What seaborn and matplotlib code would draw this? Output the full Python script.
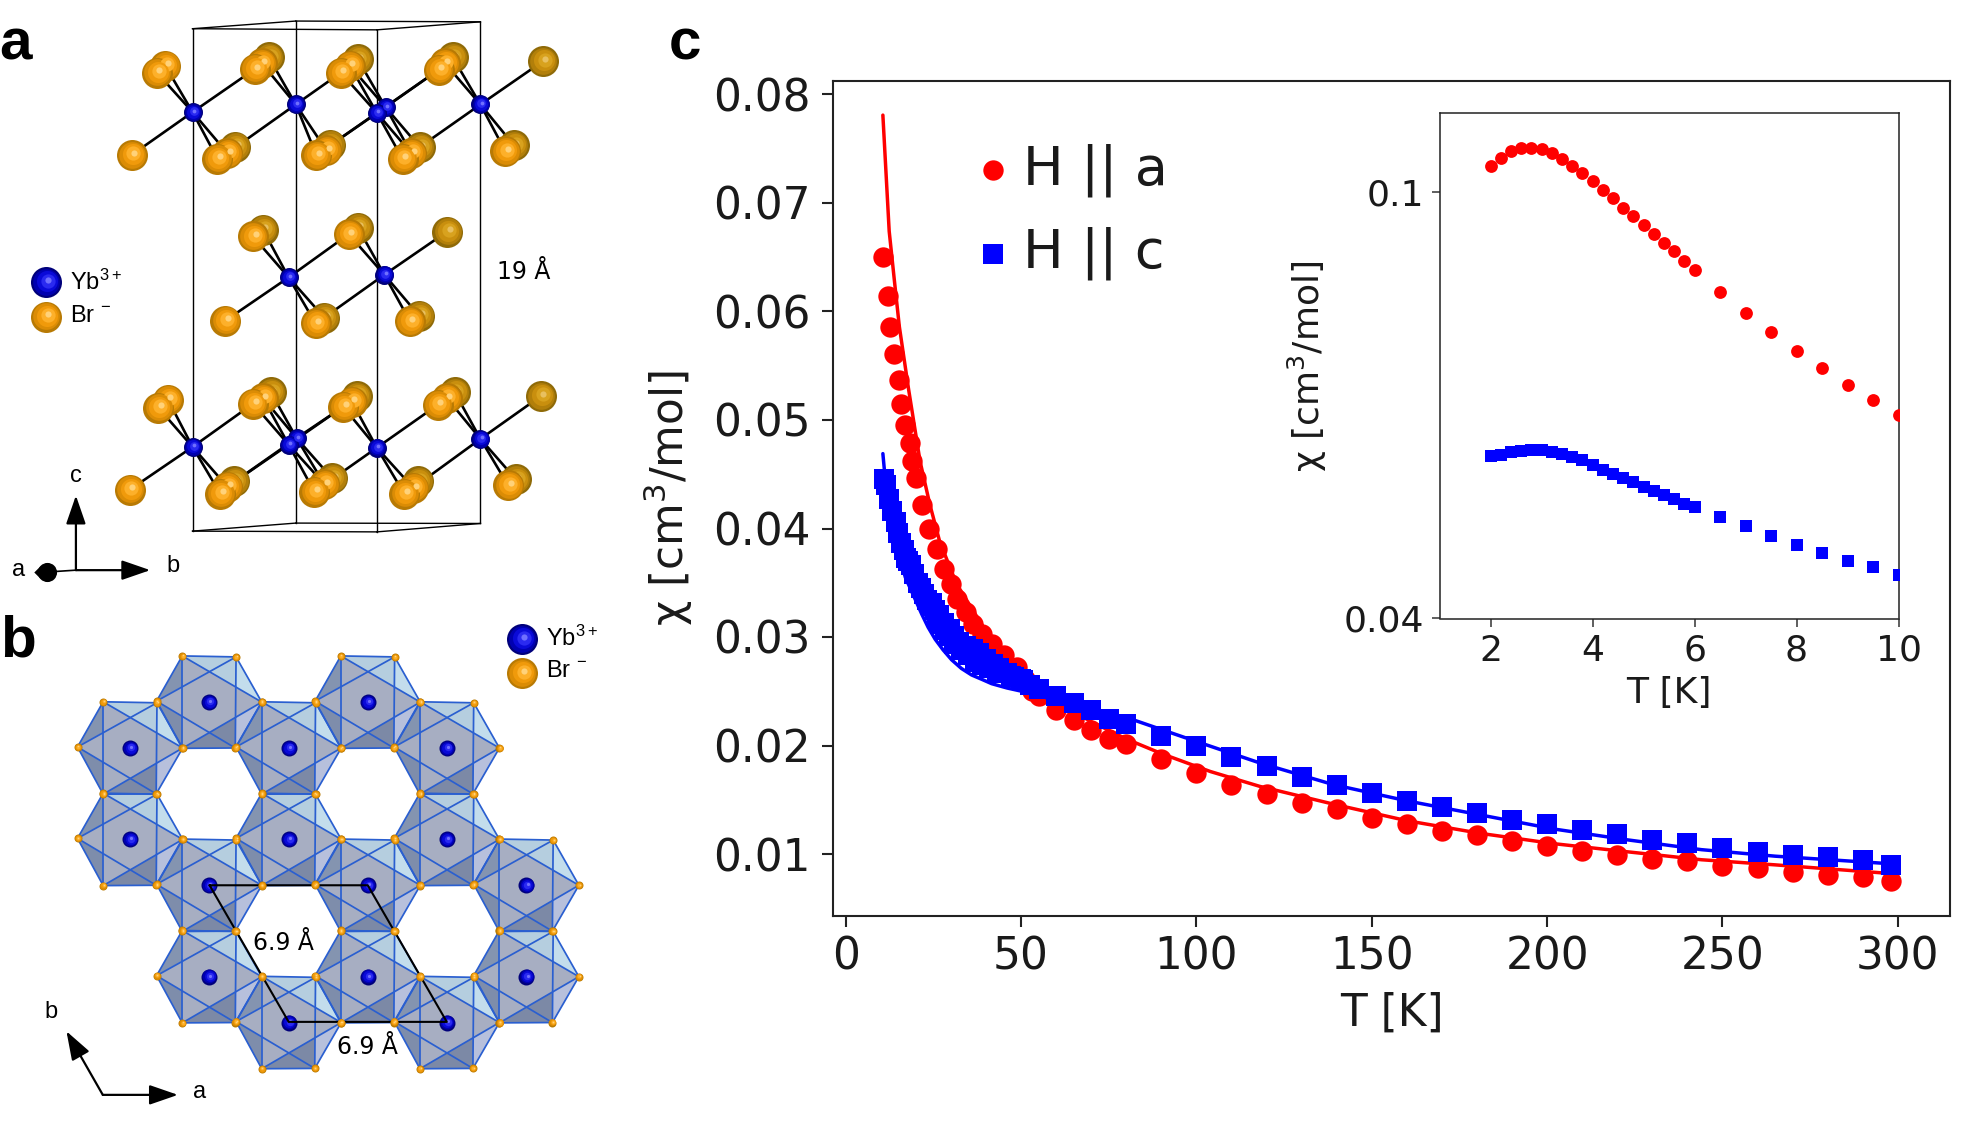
import numpy as np
import pandas as pd
import matplotlib
matplotlib.use("Agg")
import matplotlib.pyplot as plt
from matplotlib.patches import Polygon
from matplotlib.ticker import FixedLocator, NullLocator, FixedFormatter
import seaborn as sns

sns.set_theme(style="ticks")
plt.rcParams['font.family'] = ['DejaVu Sans']
plt.rcParams['mathtext.default'] = 'regular'
plt.rcParams['text.color'] = 'black'

W, H = 1973, 1125
DPI = 100

# ---------- panel c: main data ----------
t_a = [10.7, 12, 12.6, 13.9, 15.2, 15.8, 17, 18.2, 18.8, 20, 21.8, 23.7, 26.1, 28, 29.9, 31.8, 34.3, 36.4,
       38.8, 41.6, 45, 48.8, 51, 53, 55, 60, 65, 70, 75, 80, 90, 100, 110, 120, 130, 140, 150, 160, 170,
       180, 190, 200, 210, 220, 230, 240, 250, 260, 270, 280, 290, 298]
chi_a = [.0650, .0614, .0586, .0561, .0537, .0515, .0495, .0479, .0462, .0447, .0422, .0400, .0381, .0363,
         .0349, .0335, .0323, .0312, .0303, .0294, .0283, .0272, .0261, .0250, .02455, .02328, .02233,
         .02143, .02063, .02010, .01873, .01751, .01640, .01555, .01471, .01413, .01333, .01275, .01212,
         .01175, .01116, .01074, .01032, .00995, .00958, .00931, .00894, .00873, .00836, .00810, .00788, .00751]
t_c = [10.8, 11.6, 12.4, 13.3, 14.3, 15, 15.8, 16.5, 17.2, 17.9, 18.6, 19.5, 20.5, 21.4, 22.4, 23.3, 24.3, 25.5,
       26.7, 28, 29.6, 31, 32.4, 34.3, 36.2, 38, 40, 42, 43.8, 46, 48, 50.5, 52.5, 55, 60, 65, 70, 75, 80, 90,
       100, 110, 120, 130, 140, 150, 160, 170, 180, 190, 200, 210, 220, 230, 240, 250, 260, 270, 280, 290, 298]
chi_c = [.0446, .0440, .0427, .0416, .0406, .0396, .0387, .0380, .0373, .0370, .0366, .0358, .0350, .0345,
         .0340, .0334, .0329, .0325, .0320, .0313, .0307, .0301, .0295, .0292, .0289, .0285, .0280, .0275,
         .0271, .0267, .0263, .0260, .0256, .02524, .02455, .02391, .02328, .02248, .02201, .02084, .01995,
         .01894, .01809, .01714, .01635, .01566, .01492, .01434, .01376, .01317, .01275, .01217, .01180,
         .01132, .01101, .01058, .01016, .00995, .00968, .00947, .00899]
# lower side of the thick blue band between about 24 K and 50 K
t_c_low = [24.5, 26, 27, 28.3, 29.5, 31, 33, 35, 37, 38.8, 41, 43, 44.5, 47, 50]
chi_c_low = [.0331, .0318, .0312, .0306, .0301, .0294, .0288, .0283, .0277, .0274, .0271, .0268, .0267, .0264, .0261]
fit_t_a = [10.6, 12.4, 13.9, 15.3, 17.9, 21.2, 24, 26.8, 31.6, 41, 49, 55, 60, 70, 80, 90, 104, 118, 139, 160,
           181, 202, 223, 244, 265, 298]
fit_a = [.0781, .0674, .0628, .0586, .0529, .0462, .0422, .0388, .0349, .0300, .0273, .0253, .0240, .0222,
         .0206, .01926, .0176, .01624, .0146, .01307, .0119, .01095, .0102, .00947, .0090, .0082]
fit_t_c = [10.6, 11.4, 13, 15, 17, 19.5, 21.7, 23.5, 25.5, 27.8, 30.2, 33, 35.9, 38.8, 41.6, 46, 50.2, 55, 65, 82.6,
           97, 118, 139, 160, 181, 202, 223, 244, 265, 298]
fit_c = [.0469, .0441, .0405, .0378, .0355, .0337, .0321, .0309, .0298, .0288, .0279, .0271, .0265, .0261,
         .0257, .0253, .0250, .0246, .0237, .0223, .0207, .0184, .0164, .0149, .0136, .0123, .0113, .0104,
         .0098, .0091]

# ---------- panel c: inset data ----------
t_in_a = [2.0, 2.2, 2.4, 2.6, 2.8, 3.0, 3.2, 3.4, 3.6, 3.8, 4.0, 4.2, 4.4, 4.6, 4.8, 5.0, 5.2, 5.4, 5.6, 5.8, 6.0,
          6.5, 7.0, 7.5, 8.0, 8.5, 9.0, 9.5, 10.0]
t_in_c = list(t_in_a)
in_a = [.1059, .1078, .1094, .1100, .1101, .1097, .1088, .1074, .1059, .1042, .1024, .1006, .0988, .0968, .0950,
        .0932, .0915, .0897, .0881, .0863, .0847, .0808, .0772, .0740, .0711, .0685, .0661, .0640, .0620]
in_c = [.0567, .0569, .0572, .0574, .0575, .0575, .0572, .0570, .0566, .0562, .0557, .0551, .0546, .0541, .0536,
        .0531, .0526, .0522, .0517, .0512, .0508, .0498, .0488, .0478, .0469, .0461, .0453, .0447, .0439]

main_xticks = [0, 50, 100, 150, 200, 250, 300]
main_yticks = [0.01, 0.02, 0.03, 0.04, 0.05, 0.06, 0.07, 0.08]
inset_xticks = [2, 4, 6, 8, 10]
inset_yticks = [0.04, 0.1]
inset_ylabels = ['0.04', '0.1']

# ---------- panel a: structure drawing, read in a 1568x1568 frame over the crop ----------
a_cell = [[(487, 75), (953, 78)], [(487, 75), (748, 55)], [(953, 78), (1215, 57)], [(748, 55), (1215, 57)],
          [(487, 75), (487, 1388)], [(748, 55), (748, 1367)], [(953, 78), (953, 1390)], [(1215, 57), (1215, 1368)],
          [(487, 1388), (953, 1390)], [(487, 1388), (748, 1367)], [(953, 1390), (1215, 1368)], [(748, 1367), (1215, 1368)]]
a_br_dark = [(680, 150), (905, 155), (1145, 150), (1373, 160), (595, 383), (835, 378), (1062, 385), (1300, 380),
             (665, 600), (905, 595), (1131, 605), (820, 830), (1060, 825),
             (685, 1025), (903, 1035), (1150, 1025), (1368, 1035), (592, 1258), (840, 1250), (1058, 1258), (1305, 1253)]
a_br = [(418, 172), (397, 190), (662, 165), (645, 180), (885, 172), (862, 190), (1125, 165), (1110, 182),
        (333, 405), (575, 400), (550, 415), (825, 392), (800, 405), (1040, 400), (1018, 415), (1278, 395),
        (640, 618), (882, 612), (570, 838), (798, 845), (1037, 840),
        (425, 1045), (400, 1065), (665, 1040), (640, 1055), (890, 1050), (868, 1063), (1130, 1040), (1107, 1058),
        (328, 1280), (575, 1272), (557, 1290), (820, 1265), (795, 1285), (1045, 1275), (1022, 1290), (1285, 1268)]
a_yb = [(487, 293), (748, 273), (975, 280), (953, 295), (1215, 273), (730, 725), (972, 718),
        (487, 1168), (750, 1145), (730, 1162), (953, 1170), (1215, 1147)]
a_bonds = [[(487, 293), (397, 190)], [(487, 293), (418, 172)], [(487, 293), (333, 405)], [(487, 293), (550, 415)],
           [(487, 293), (575, 400)], [(487, 293), (645, 180)],
           [(748, 273), (662, 165)], [(748, 273), (680, 150)], [(748, 273), (575, 400)], [(748, 273), (800, 405)],
           [(748, 273), (825, 392)], [(748, 273), (862, 190)],
           [(975, 280), (885, 172)], [(975, 280), (905, 155)], [(975, 280), (800, 405)], [(975, 280), (1040, 400)],
           [(975, 280), (1062, 385)], [(975, 280), (1110, 182)],
           [(953, 295), (862, 190)], [(953, 295), (885, 172)], [(953, 295), (800, 405)], [(953, 295), (1018, 415)],
           [(953, 295), (1040, 400)], [(953, 295), (1110, 182)],
           [(1215, 273), (1125, 165)], [(1215, 273), (1145, 150)], [(1215, 273), (1373, 160)], [(1215, 273), (1040, 400)],
           [(1215, 273), (1278, 395)], [(1215, 273), (1300, 380)],
           [(730, 725), (640, 618)], [(730, 725), (665, 600)], [(730, 725), (570, 838)], [(730, 725), (798, 845)],
           [(730, 725), (820, 830)], [(730, 725), (882, 612)],
           [(972, 718), (882, 612)], [(972, 718), (905, 595)], [(972, 718), (1131, 605)], [(972, 718), (820, 830)],
           [(972, 718), (1037, 840)], [(972, 718), (1060, 825)],
           [(487, 1168), (400, 1065)], [(487, 1168), (425, 1045)], [(487, 1168), (328, 1280)], [(487, 1168), (557, 1290)],
           [(487, 1168), (575, 1272)], [(487, 1168), (640, 1055)],
           [(750, 1145), (665, 1040), ], [(750, 1145), (685, 1025)], [(750, 1145), (575, 1272)], [(750, 1145), (820, 1265)],
           [(750, 1145), (840, 1250)], [(750, 1145), (868, 1063)],
           [(730, 1162), (640, 1055)], [(730, 1162), (665, 1040)], [(730, 1162), (575, 1272)], [(730, 1162), (795, 1285)],
           [(730, 1162), (820, 1265)], [(730, 1162), (868, 1063)],
           [(953, 1170), (868, 1063)], [(953, 1170), (890, 1050)], [(953, 1170), (795, 1285)], [(953, 1170), (1022, 1290)],
           [(953, 1170), (1045, 1275)], [(953, 1170), (1107, 1058)],
           [(1215, 1147), (1130, 1040)], [(1215, 1147), (1150, 1025)], [(1215, 1147), (1368, 1035)], [(1215, 1147), (1045, 1275)],
           [(1215, 1147), (1285, 1268)], [(1215, 1147), (1305, 1253)]]

# ---------- panel b: structure drawing ----------
b_centres = [(529, 305), (930, 305), (329, 442), (730, 442), (1130, 442), (329, 715), (730, 715), (1130, 715),
             (529, 852), (930, 852), (1331, 852), (529, 1125), (930, 1125), (1331, 1125), (730, 1262), (1130, 1262)]
b_cell = [(530, 852), (930, 852), (1130, 1260), (730, 1260), (530, 852)]

ORANGE = ['#B87A04', '#DB8C05', '#F09A0B', '#FDB02A', '#FFD27A']
ORANGE_D = ['#8F6A08', '#B27F0A', '#C98F0E', '#D8A21E', '#E8C060']
BLUE = ['#00007A', '#0000B0', '#0A0AD8', '#2A2AF0', '#7070FF']


def ball(ax, x, y, d_px, cols, z):
    """shaded sphere from a few shrinking discs; d_px is the diameter in image pixels"""
    for i, (f, c) in enumerate(zip([1.0, .86, .68, .46, .2], cols)):
        d = d_px * 0.72 * f
        off = (1 - f) * d_px * 0.25
        ax.scatter([x + off * 1.0], [y - off * 1.0], s=d ** 2, c=c, linewidths=0, zorder=z + i * 0.01, clip_on=False)


def arrow(ax, p0, p1, lw=1.6):
    ax.annotate('', xy=p1, xytext=p0,
                arrowprops=dict(arrowstyle='-|>,head_length=1.1,head_width=0.38', color='black', lw=lw,
                                shrinkA=0, shrinkB=0, mutation_scale=16))


fig = plt.figure(figsize=(W / DPI, H / DPI), dpi=DPI, facecolor='white')


def px_axes(x0, y0, x1, y1):
    return fig.add_axes([x0 / W, 1 - y1 / H, (x1 - x0) / W, (y1 - y0) / H])


LAB = dict(family=['Liberation Sans'], color='black')

# ---- panel a
axa = px_axes(0, 0, 620, 600)
axa.set_xlim(0, 1568)
axa.set_ylim(1568, 0)
axa.axis('off')
for seg in a_cell:
    axa.plot(*zip(*seg), color='black', lw=1.0, zorder=1, solid_capstyle='projecting')
for seg in a_bonds:
    axa.plot(*zip(*seg), color='black', lw=1.9, zorder=2)
for i, (x, y) in enumerate(a_br_dark):
    ball(axa, x, y, 31, ORANGE_D, 3 + i * 0.02)
for i, (x, y) in enumerate(a_br):
    ball(axa, x, y, 31, ORANGE, 4 + i * 0.02)
for i, (x, y) in enumerate(a_yb):
    ball(axa, x, y, 19, BLUE, 6 + i * 0.02)
ball(axa, 116, 738, 31, BLUE, 6)
ball(axa, 116, 828, 31, ORANGE, 6)
axa.text(178, 738, 'Yb$^{3+}$', fontsize=17, va='center', ha='left', **LAB)
axa.text(178, 825, 'Br $^{-}$', fontsize=17, va='center', ha='left', **LAB)
axa.text(1325, 712, '19 Å', fontsize=17, va='center', ha='center', color='black')
axa.text(38, 116, 'a', fontsize=42, fontweight='bold', va='center', ha='center', **LAB)
arrow(axa, (192, 1490), (192, 1295))
arrow(axa, (192, 1490), (380, 1490))
axa.plot([192, 118], [1490, 1495], color='black', lw=1.2, zorder=2)
axa.scatter([118], [1495], s=190, c='black', linewidths=0, zorder=3)
axa.scatter([100], [1495], s=40, c='black', marker='D', linewidths=0, zorder=3)
axa.text(192, 1245, 'c', fontsize=17, va='center', ha='center', **LAB)
axa.text(46, 1490, 'a', fontsize=17, va='center', ha='center', **LAB)
axa.text(438, 1478, 'b', fontsize=17, va='center', ha='center', **LAB)

# ---- panel b
axb = px_axes(0, 600, 620, 1125)
axb.set_xlim(0, 1568)
axb.set_ylim(1568, 0)
axb.axis('off')
EDGE = '#2A5FD0'
for cx, cy in b_centres:
    TL, TR, R_, BR, BL, L_ = [(cx + dx, cy + dy) for dx, dy in
                              [(-68, -138), (68, -135), (133, 0), (66, 137), (-68, 138), (-133, -3)]]
    P = lambda dx, dy: (cx + dx, cy + dy)
    axb.add_patch(Polygon([TL, TR, R_, BR, BL, L_], closed=True, fc='#A7AEC2', ec='none', zorder=1))
    axb.add_patch(Polygon([TL, TR, P(0, -92)], closed=True, fc='#B5CEDF', ec='none', zorder=1.1))
    axb.add_patch(Polygon([TR, R_, P(66, -45)], closed=True, fc='#C3DDEC', ec='none', zorder=1.1))
    axb.add_patch(Polygon([P(0, -92), TR, P(66, -45)], closed=True, fc='#B5CEDF', ec='none', zorder=1.1))
    axb.add_patch(Polygon([R_, BR, P(66, 45)], closed=True, fc='#B7C0DC', ec='none', zorder=1.1))
    axb.add_patch(Polygon([BL, BR, P(0, 92)], closed=True, fc='#7C89A6', ec='none', zorder=1.1))
    axb.add_patch(Polygon([P(0, 92), BR, P(66, 45)], closed=True, fc='#7C89A6', ec='none', zorder=1.1))
    axb.add_patch(Polygon([L_, TL, P(-68, -48)], closed=True, fc='#8494B0', ec='none', zorder=1.1))
    axb.add_patch(Polygon([L_, BL, P(-68, 45)], closed=True, fc='#7E8DAB', ec='none', zorder=1.1))
    segs = [(TL, TR), (TR, R_), (R_, BR), (BR, BL), (BL, L_), (L_, TL), (TL, BL), (TR, BR),
            (TL, R_), (L_, TR), (L_, BR), (BL, R_)]
    for p0, p1 in segs:
        axb.plot(*zip(p0, p1), color=EDGE, lw=1.25, zorder=2)
    ball(axb, cx, cy, 16, BLUE, 3)
    for vx, vy in (TL, TR, R_, BR, BL, L_):
        ball(axb, vx, vy, 8, ORANGE, 4)
axb.plot(*zip(*b_cell), color='black', lw=1.5, zorder=3.5)
ball(axb, 1320, 117, 31, BLUE, 6)
ball(axb, 1320, 218, 31, ORANGE, 6)
axb.text(1380, 113, 'Yb$^{3+}$', fontsize=17, va='center', ha='left', **LAB)
axb.text(1380, 212, 'Br $^{-}$', fontsize=17, va='center', ha='left', **LAB)
axb.text(717, 1025, '6.9 Å', fontsize=17, va='center', ha='center', zorder=7, color='black')
axb.text(930, 1335, '6.9 Å', fontsize=17, va='center', ha='center', zorder=7, color='black')
axb.text(46, 125, 'b', fontsize=42, fontweight='bold', va='center', ha='center', **LAB)
arrow(axb, (260, 1478), (168, 1288))
arrow(axb, (260, 1478), (450, 1478))
axb.text(128, 1232, 'b', fontsize=17, va='center', ha='center', **LAB)
axb.text(505, 1468, 'a', fontsize=17, va='center', ha='center', **LAB)

fig.text(685 / W, 1 - 44 / H, 'c', fontsize=42, fontweight='bold', va='center', ha='center', **LAB)

# ---- panel c main
ax = px_axes(833, 81, 1950, 916)
df_a = pd.DataFrame({'T': t_a, 'chi': chi_a})
df_c = pd.DataFrame({'T': t_c + t_c_low, 'chi': chi_c + chi_c_low})
sns.scatterplot(data=df_a, x='T', y='chi', ax=ax, color='#FF0000', marker='o', s=215, linewidth=0,
                label='H || a', zorder=2)
sns.lineplot(data=pd.DataFrame({'T': fit_t_a, 'chi': fit_a}), x='T', y='chi', ax=ax, color='#FF0000', lw=2.5,
             zorder=3, legend=False, errorbar=None)
sns.scatterplot(data=df_c, x='T', y='chi', ax=ax, color='#0000FF', marker='s', s=218, linewidth=0,
                label='H || c', zorder=4)
sns.lineplot(data=pd.DataFrame({'T': fit_t_c, 'chi': fit_c}), x='T', y='chi', ax=ax, color='#0000FF', lw=2.5,
             zorder=5, legend=False, errorbar=None)
ax.set_xlim((833 - 845.7) / 3.507, (1950 - 845.7) / 3.507)
ax.set_ylim(0.01 + (854 - 916) / 10850, 0.01 + (854 - 81) / 10850)
ax.xaxis.set_major_locator(FixedLocator(main_xticks))
ax.yaxis.set_major_locator(FixedLocator(main_yticks))
ax.set_yticklabels([f'{v:.2f}' for v in main_yticks])
ax.tick_params(axis='both', which='major', labelsize=31.5, length=8, width=1.5, color='#222222', labelcolor='#1a1a1a')
ax.tick_params(axis='y', pad=8)
ax.tick_params(axis='x', pad=6)
ax.set_xlabel('T [K]', fontsize=31.5, color='#1a1a1a', labelpad=9.5)
ax.set_ylabel(r'$\chi$ [cm$^3$/mol]', fontsize=31.5, color='#1a1a1a', labelpad=13)
for s in ax.spines.values():
    s.set_visible(True)
    s.set_linewidth(1.5)
    s.set_color('#222222')
leg = ax.legend(loc='upper left', bbox_to_anchor=(0.080, 0.977), frameon=False, fontsize=39, handletextpad=0.05,
                labelspacing=0.55, borderpad=0.3, handlelength=1.0)
for txt in leg.get_texts():
    txt.set_color('#1a1a1a')

# ---- panel c inset
axi = px_axes(1439.5, 113.5, 1898.5, 618.5)
sns.scatterplot(x=t_in_a, y=in_a, ax=axi, color='#FF0000', marker='o', s=85, linewidth=0, zorder=3, clip_on=True)
sns.scatterplot(x=t_in_c, y=in_c, ax=axi, color='#0000FF', marker='s', s=78, linewidth=0, zorder=3, clip_on=True)
axi.set_yscale('log')
axi.set_xlim(1, 10)
axi.set_ylim(0.04, 0.1185)
axi.xaxis.set_major_locator(FixedLocator(inset_xticks))
axi.yaxis.set_major_locator(FixedLocator(inset_yticks))
axi.yaxis.set_major_formatter(FixedFormatter(inset_ylabels))
axi.yaxis.set_minor_locator(NullLocator())
axi.tick_params(axis='both', which='major', labelsize=26, length=6, width=1.1, color='#333333', pad=5,
                labelcolor='#1a1a1a')
axi.set_xlabel('T [K]', fontsize=26, color='#1a1a1a', labelpad=6)
axi.set_ylabel(r'$\chi$ [cm$^3$/mol]', fontsize=26, color='#1a1a1a', labelpad=10.5)
for s in axi.spines.values():
    s.set_visible(True)
    s.set_linewidth(1.1)
    s.set_color('#222222')

fig.savefig('out.png', dpi=DPI)
